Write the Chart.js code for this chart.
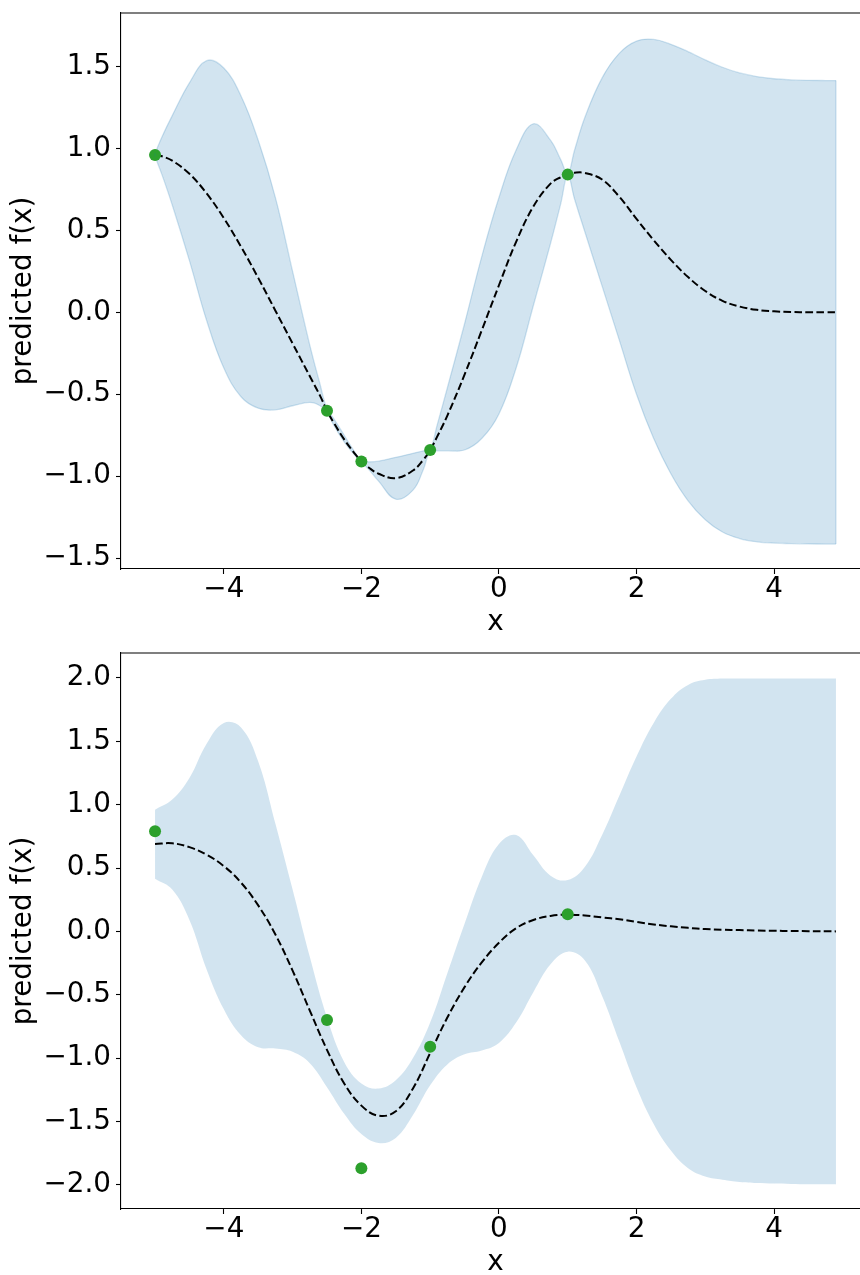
<!DOCTYPE html>
<html>
<head>
<meta charset="utf-8">
<script src="https://cdn.jsdelivr.net/npm/chart.js@4.4.1/dist/chart.umd.min.js"></script>
<style>
  html, body { margin: 0; padding: 0; background: #fff; }
  body { width: 860px; height: 1275px; overflow: hidden; position: relative; }
  canvas { position: absolute; left: 0; }
  #topChart { top: 0; }
  #bottomChart { top: 640px; }
</style>
</head>
<body>
<canvas id="topChart" width="880" height="640"></canvas>
<canvas id="bottomChart" width="880" height="640"></canvas>
<script>
// Noise-free fit (top panel)
const topXs = [-5, -4.9, -4.75, -4.5, -4.25, -4, -3.75, -3.5, -3.25, -3, -2.75, -2.6, -2.5, -2.4, -2.25,
  -2.1, -2, -1.9, -1.75, -1.5, -1.25, -1.1, -1, -0.9, -0.75, -0.5, -0.25, 0, 0.25, 0.5, 0.75, 0.9, 1, 1.1,
  1.25, 1.5, 1.75, 2, 2.25, 2.5, 2.75, 3, 3.25, 3.5, 3.75, 4, 4.25, 4.5, 4.75, 4.9];
const topMean = [0.96, 0.952, 0.925, 0.845, 0.725, 0.575, 0.4, 0.21, 0.01, -0.19, -0.39, -0.51, -0.6, -0.675, -0.775,
  -0.86, -0.91, -0.945, -0.985, -1.012, -0.965, -0.9, -0.84, -0.76, -0.63, -0.38, -0.11, 0.165, 0.43, 0.645, 0.785, 0.825, 0.843, 0.852,
  0.85, 0.81, 0.705, 0.57, 0.44, 0.32, 0.215, 0.13, 0.07, 0.035, 0.015, 0.006, 0.002, 0, 0, 0];
const topUpper = [0.97, 1.07, 1.2, 1.4, 1.535, 1.49, 1.32, 1.05, 0.7, 0.25, -0.2, -0.44, -0.59, -0.65, -0.75,
  -0.85, -0.905, -0.912, -0.908, -0.885, -0.86, -0.845, -0.835, -0.69, -0.46, -0.07, 0.34, 0.7, 0.99, 1.15, 1.05, 0.93, 0.845, 0.99,
  1.19, 1.43, 1.58, 1.655, 1.665, 1.635, 1.59, 1.54, 1.495, 1.46, 1.438, 1.425, 1.418, 1.415, 1.414, 1.414];
const topLower = [0.95, 0.84, 0.655, 0.315, -0.05, -0.34, -0.515, -0.585, -0.595, -0.57, -0.55, -0.57, -0.61, -0.69, -0.79,
  -0.87, -0.915, -0.955, -1.03, -1.14, -1.085, -0.96, -0.848, -0.845, -0.845, -0.84, -0.77, -0.62, -0.34, 0.04, 0.42, 0.665, 0.835, 0.69,
  0.49, 0.16, -0.17, -0.5, -0.77, -0.985, -1.15, -1.265, -1.34, -1.38, -1.4, -1.408, -1.411, -1.413, -1.414, -1.414];
const topObsX = [-5, -2.5, -2, -1, 1];
const topObsY = [0.96, -0.6, -0.91, -0.84, 0.84];
const topYTicks = [-1.5, -1, -0.5, 0, 0.5, 1, 1.5];

// Noisy fit (bottom panel)
const bottomXs = [-5, -4.75, -4.5, -4.25, -4, -3.75, -3.5, -3.25, -3, -2.75, -2.5, -2.25, -2, -1.75, -1.5, -1.25,
  -1, -0.75, -0.5, -0.25, 0, 0.25, 0.5, 0.75, 1, 1.25, 1.5, 1.75, 2, 2.25, 2.5, 2.75, 3, 3.25, 3.5, 3.75, 4, 4.25,
  4.5, 4.75, 4.9];
const bottomMean = [0.69, 0.695, 0.665, 0.605, 0.515, 0.385, 0.205, -0.025, -0.31, -0.625, -0.935, -1.2, -1.375, -1.455, -1.42, -1.24,
  -0.96, -0.68, -0.44, -0.245, -0.09, 0.025, 0.09, 0.122, 0.132, 0.125, 0.11, 0.095, 0.075, 0.055, 0.04, 0.028, 0.018, 0.013, 0.01, 0.007, 0.005, 0.003,
  0.002, 0.001, 0];
const bottomUpper = [0.96, 1.04, 1.21, 1.48, 1.645, 1.61, 1.34, 0.85, 0.33, -0.2, -0.68, -1.03, -1.2, -1.24, -1.175, -1.0,
  -0.72, -0.33, 0.06, 0.43, 0.69, 0.76, 0.6, 0.44, 0.405, 0.51, 0.76, 1.07, 1.38, 1.645, 1.835, 1.945, 1.985, 1.995, 1.995, 1.995, 1.995, 1.995,
  1.995, 1.995, 1.995];
const bottomLower = [0.415, 0.33, 0.09, -0.3, -0.615, -0.82, -0.915, -0.925, -0.95, -1.04, -1.23, -1.44, -1.6, -1.67, -1.63, -1.45,
  -1.215, -1.05, -0.97, -0.94, -0.88, -0.72, -0.48, -0.26, -0.16, -0.23, -0.51, -0.87, -1.23, -1.52, -1.73, -1.87, -1.935, -1.96, -1.977, -1.985, -1.99, -1.993,
  -1.995, -1.995, -1.995];
const bottomObsX = [-5, -2.5, -2, -1, 1];
const bottomObsY = [0.79, -0.7, -1.87, -0.91, 0.135];
const bottomYTicks = [-2, -1.5, -1, -0.5, 0, 0.5, 1, 1.5, 2];

const xTicks = [-4, -2, 0, 2, 4];

const BAND_FILL = 'rgba(31, 119, 180, 0.2)';
const tickFont = { family: 'DejaVu Sans', size: 27.8 };

Chart.defaults.font.family = 'DejaVu Sans';

// matplotlib style minus sign
function fmt(v, digits) {
  const s = Math.abs(v).toFixed(digits);
  return v < 0 ? '\u2212' + s : s;
}

// top and right spines
const boxFrame = {
  id: 'boxFrame',
  afterDraw(chart) {
    const { ctx, chartArea } = chart;
    ctx.save();
    ctx.strokeStyle = '#000';
    ctx.lineWidth = 1.1;
    ctx.beginPath();
    ctx.moveTo(chartArea.left, chartArea.top);
    ctx.lineTo(chartArea.right, chartArea.top);
    ctx.lineTo(chartArea.right, chartArea.bottom);
    ctx.stroke();
    ctx.restore();
  }
};

// closes the band outline at both ends, like a filled polygon edge
const bandEnds = {
  id: 'bandEnds',
  afterDatasetsDraw(chart) {
    const upper = chart.data.datasets[2];
    const lower = chart.data.datasets[3];
    if (!upper.borderWidth) return;
    const { ctx, scales } = chart;
    ctx.save();
    ctx.strokeStyle = upper.borderColor;
    ctx.lineWidth = upper.borderWidth;
    [0, upper.data.length - 1].forEach((i) => {
      const px = scales.x.getPixelForValue(upper.data[i].x);
      ctx.beginPath();
      ctx.moveTo(px, scales.y.getPixelForValue(upper.data[i].y));
      ctx.lineTo(px, scales.y.getPixelForValue(lower.data[i].y));
      ctx.stroke();
    });
    ctx.restore();
  }
};

function makeChart(id, xs, mean, upper, lower, obsX, obsY, yMin, yMax, yTicks, edgeWidth) {
  const pts = (ys) => xs.map((x, i) => ({ x: x, y: ys[i] }));
  return new Chart(document.getElementById(id), {
    type: 'scatter',
    data: {
      datasets: [
        {
          data: obsX.map((x, i) => ({ x: x, y: obsY[i] })),
          pointRadius: 6,
          pointBackgroundColor: '#2ca02c',
          pointBorderWidth: 0,
          showLine: false
        },
        {
          data: pts(mean),
          showLine: true,
          borderColor: '#000',
          borderWidth: 2,
          borderDash: [7.7, 3.3],
          pointRadius: 0,
          tension: 0.4,
          fill: false
        },
        {
          data: pts(upper),
          showLine: true,
          borderColor: BAND_FILL,
          borderWidth: edgeWidth,
          pointRadius: 0,
          tension: 0.4,
          backgroundColor: BAND_FILL,
          fill: '+1'
        },
        {
          data: pts(lower),
          showLine: true,
          borderColor: BAND_FILL,
          borderWidth: edgeWidth,
          pointRadius: 0,
          tension: 0.4,
          fill: false
        }
      ]
    },
    options: {
      responsive: false,
      animation: false,
      devicePixelRatio: 1,
      events: [],
      layout: { padding: { top: 13, right: 10, left: 0, bottom: 0 } },
      plugins: { legend: { display: false }, tooltip: { enabled: false } },
      scales: {
        x: {
          type: 'linear',
          min: -5.495,
          max: 5.395,
          afterBuildTicks: (s) => { s.ticks = xTicks.map((v) => ({ value: v })); },
          afterFit: (s) => { s.height = 71; s.paddingLeft = 0; s.paddingRight = 0; },
          grid: { drawOnChartArea: false, drawTicks: true, tickLength: 5, tickWidth: 1.1, tickColor: '#000', color: '#000' },
          border: { display: true, color: '#000', width: 1.1 },
          ticks: { color: '#000', font: tickFont, padding: -1.3, maxRotation: 0, autoSkip: false, callback: (v) => fmt(v, 0) },
          title: { display: true, text: 'x', color: '#000', font: tickFont, padding: { top: 0, bottom: 1 } }
        },
        y: {
          type: 'linear',
          min: yMin,
          max: yMax,
          afterBuildTicks: (s) => { s.ticks = yTicks.map((v) => ({ value: v })); },
          afterFit: (s) => { s.width = 121; s.paddingTop = 0; s.paddingBottom = 0; },
          grid: { drawOnChartArea: false, drawTicks: true, tickLength: 5, tickWidth: 1.1, tickColor: '#000', color: '#000' },
          border: { display: true, color: '#000', width: 1.1 },
          ticks: { color: '#000', font: tickFont, padding: 5, autoSkip: false, callback: (v) => fmt(v, 1) },
          title: { display: true, text: 'predicted f(x)', color: '#000', font: tickFont, padding: { top: 7, bottom: 0 } }
        }
      }
    },
    plugins: [boxFrame, bandEnds]
  });
}

makeChart('topChart', topXs, topMean, topUpper, topLower, topObsX, topObsY,
  -1.566, 1.826, topYTicks, 1.3);
makeChart('bottomChart', bottomXs, bottomMean, bottomUpper, bottomLower, bottomObsX, bottomObsY,
  -2.191, 2.197, bottomYTicks, 0);
</script>
</body>
</html>
